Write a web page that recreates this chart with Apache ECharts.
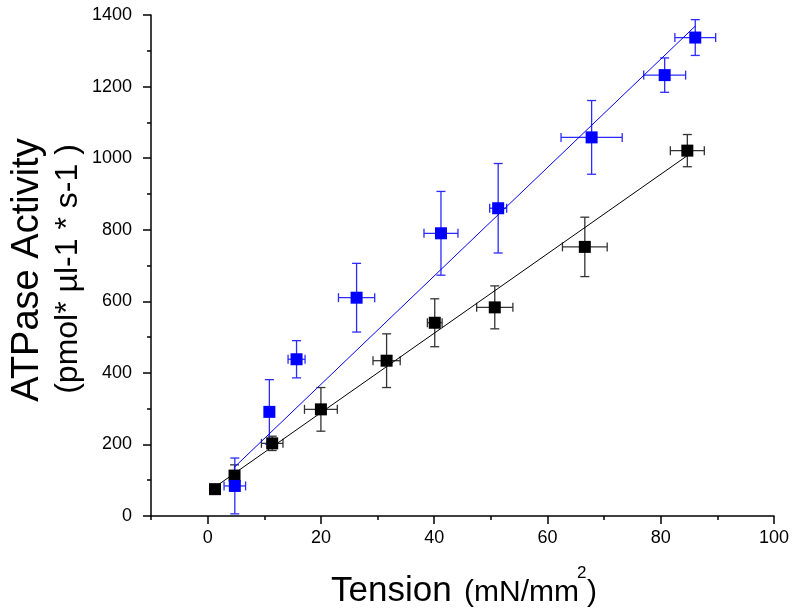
<!DOCTYPE html>
<html>
<head>
<meta charset="utf-8">
<script src="https://cdn.jsdelivr.net/npm/echarts@6/dist/echarts.min.js"></script>
<style>
  html, body { margin: 0; padding: 0; background: #fff; }
  #chart { width: 792px; height: 616px; }
</style>
</head>
<body>
<div id="chart"></div>
<script>
const xMajorTicks = [0, 20, 40, 60, 80, 100];
const xMinorTicks = [-10, 10, 30, 50, 70, 90];

// blue points, with x / y error
const blueX = [4.8, 10.9, 15.7, 26.3, 41.2, 51.3, 67.8, 80.7, 86.1];
const blueY = [84, 291, 438, 610, 790, 860, 1058, 1232, 1337];
const blueXErr = [1.9, 0.6, 1.5, 3.2, 3.0, 1.5, 5.4, 3.7, 3.6];
const blueYErr = [78, 90, 52, 96, 117, 125, 103, 48, 50];
const blueFit = [[4.7, 136], [86.1, 1369]];

// black points
const blackX = [1.3, 4.75, 11.4, 20.0, 31.6, 40.1, 50.7, 66.6, 84.7];
const blackY = [75, 113, 203, 298, 434, 540, 583, 752, 1021];
const blackXErr = [0.6, 0.7, 1.9, 2.9, 2.4, 1.3, 3.2, 3.95, 3.0];
const blackYErr = [10, 30, 20, 61, 75, 67, 60, 83, 45];
const blackFit = [[1.3, 81], [84.7, 1007]];

const FONT = '"Liberation Sans", Arial, sans-serif';
const chart = echarts.init(document.getElementById('chart'));

function errorBars(xs, ys, xe, ye, color) {
  return {
    type: 'custom',
    silent: true,
    z: 1,
    data: xs.map((x, i) => [x, ys[i], xe[i], ye[i]]),
    encode: { x: 0, y: 1 },
    renderItem: function (params, api) {
      const x = api.value(0), y = api.value(1);
      const dx = api.value(2), dy = api.value(3);
      const top = api.coord([x, y + dy]), bot = api.coord([x, y - dy]);
      const lft = api.coord([x - dx, y]), rgt = api.coord([x + dx, y]);
      const cap = 4.5;
      const seg = (x1, y1, x2, y2) => ({
        type: 'line',
        shape: { x1: x1, y1: y1, x2: x2, y2: y2 },
        style: { stroke: color, lineWidth: 1.3, fill: null }
      });
      return {
        type: 'group',
        children: [
          seg(top[0], top[1], bot[0], bot[1]),
          seg(top[0] - cap, top[1], top[0] + cap, top[1]),
          seg(bot[0] - cap, bot[1], bot[0] + cap, bot[1]),
          seg(lft[0], lft[1], rgt[0], rgt[1]),
          seg(lft[0], lft[1] - cap, lft[0], lft[1] + cap),
          seg(rgt[0], rgt[1] - cap, rgt[0], rgt[1] + cap)
        ]
      };
    }
  };
}

const axisColor = { color: '#000', width: 1.5 };

chart.setOption({
  animation: false,
  grid: { left: 151, right: 18, top: 15, bottom: 100 },
  xAxis: [{
    type: 'value', min: -10, max: 100, position: 'bottom',
    axisLine: { show: true, onZero: false, lineStyle: axisColor },
    axisTick: { show: true, customValues: xMajorTicks, length: 8, lineStyle: axisColor },
    axisLabel: { customValues: xMajorTicks, margin: 13, fontSize: 18, color: '#000', fontFamily: FONT },
    splitLine: { show: false }
  }, {
    type: 'value', min: -10, max: 100, position: 'bottom',
    axisLine: { show: false, onZero: false },
    axisTick: { show: true, customValues: xMinorTicks, length: 4, lineStyle: axisColor },
    axisLabel: { show: false },
    splitLine: { show: false }
  }],
  yAxis: {
    type: 'value', min: 0, max: 1400, interval: 200,
    axisLine: { show: true, onZero: false, lineStyle: axisColor },
    axisTick: { show: true, length: 8, lineStyle: axisColor },
    minorTick: { show: true, splitNumber: 2, length: 4, lineStyle: axisColor },
    axisLabel: { margin: 19, fontSize: 18, color: '#000', fontFamily: FONT,
                 formatter: v => String(v) },
    splitLine: { show: false },
    minorSplitLine: { show: false }
  },
  graphic: [
    { type: 'text', x: 28, y: 270, rotation: Math.PI / 2,
      style: { text: 'ATPase Activity', fontSize: 38, fontFamily: FONT, fill: '#000',
               align: 'center', verticalAlign: 'middle', textAlign: 'center', textVerticalAlign: 'middle' } },
    { type: 'text', x: 68, y: 269, rotation: Math.PI / 2,
      style: { text: '(pmol* µl-1 * s-1 )', fontSize: 32, fontFamily: FONT, fill: '#000',
               align: 'center', verticalAlign: 'middle', textAlign: 'center', textVerticalAlign: 'middle' } },
    { type: 'text', x: 331, y: 591,
      style: { text: 'Tension', fontSize: 35, fontFamily: FONT, fill: '#000',
               align: 'left', verticalAlign: 'middle', textAlign: 'left', textVerticalAlign: 'middle' } },
    { type: 'text', x: 464, y: 593,
      style: { text: '(mN/mm', fontSize: 30, fontFamily: FONT, fill: '#000',
               align: 'left', verticalAlign: 'middle', textAlign: 'left', textVerticalAlign: 'middle' } },
    { type: 'text', x: 577, y: 573,
      style: { text: '2', fontSize: 17, fontFamily: FONT, fill: '#000',
               align: 'left', verticalAlign: 'middle', textAlign: 'left', textVerticalAlign: 'middle' } },
    { type: 'text', x: 587, y: 593,
      style: { text: ')', fontSize: 30, fontFamily: FONT, fill: '#000',
               align: 'left', verticalAlign: 'middle', textAlign: 'left', textVerticalAlign: 'middle' } }
  ],
  series: [
    errorBars(blackX, blackY, blackXErr, blackYErr, '#333'),
    errorBars(blueX, blueY, blueXErr, blueYErr, '#2b2bff'),
    {
      type: 'line', data: blackFit, showSymbol: false, silent: true, z: 2,
      lineStyle: { color: '#000', width: 1 }
    },
    {
      type: 'line', data: blueFit, showSymbol: false, silent: true, z: 2,
      lineStyle: { color: '#0000ff', width: 1 }
    },
    {
      type: 'scatter', data: blackX.map((x, i) => [x, blackY[i]]), symbol: 'rect', symbolSize: 12,
      itemStyle: { color: '#000', opacity: 1 }, z: 3
    },
    {
      type: 'scatter', data: blueX.map((x, i) => [x, blueY[i]]), symbol: 'rect', symbolSize: 12,
      itemStyle: { color: '#0000ff', opacity: 1 }, z: 3
    }
  ]
});
</script>
</body>
</html>
